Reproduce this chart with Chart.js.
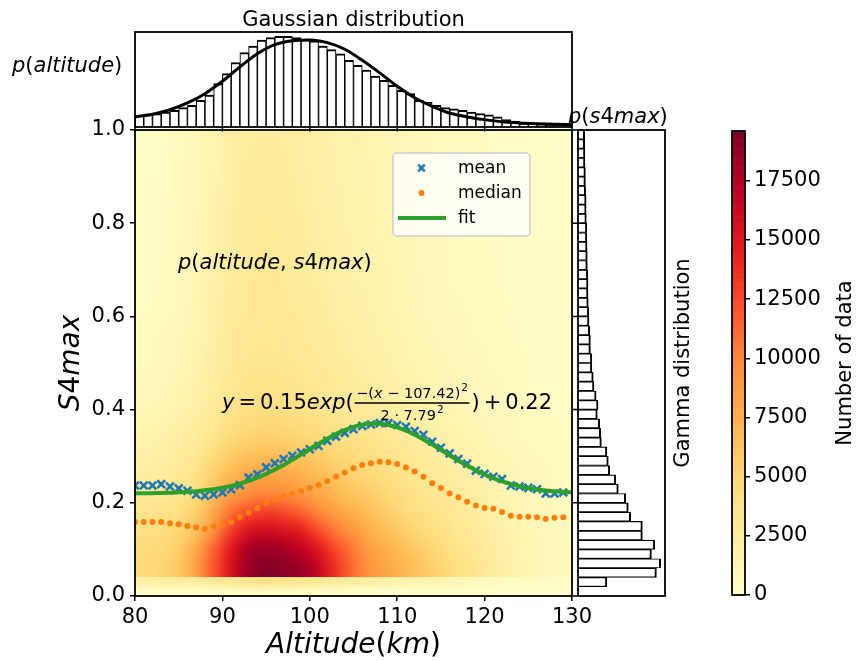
<!DOCTYPE html>
<html>
<head>
<meta charset="utf-8">
<script src="https://cdn.jsdelivr.net/npm/chart.js@4.4.1/dist/chart.umd.min.js"></script>
<style>
  html, body { margin: 0; padding: 0; background: #fff; }
  #wrap { position: relative; width: 860px; height: 661px; }
  #wrap canvas { position: absolute; left: 0; top: 0; }
</style>
</head>
<body>
<div id="wrap">
  <canvas id="mainPlot" width="860" height="661"></canvas>
  <canvas id="altHist" width="860" height="661"></canvas>
  <canvas id="s4Hist" width="860" height="661"></canvas>
  <canvas id="colorBar" width="860" height="661"></canvas>
</div>
<script>
// ---------------- data ----------------
// altitude bins (km) used for the mean / median profiles
const altitudeKm = [80,81,82,83,84,85,86,87,88,89,90,91,92,93,94,95,96,97,98,99,
  100,101,102,103,104,105,106,107,108,109,110,111,112,113,114,115,116,117,118,119,
  120,121,122,123,124,125,126,127,128,129];

const meanS4 = [0.237,0.237,0.237,0.240,0.235,0.231,0.226,0.218,0.215,0.218,
  0.222,0.229,0.238,0.254,0.261,0.276,0.285,0.294,0.301,0.308,
  0.315,0.322,0.333,0.342,0.350,0.358,0.365,0.368,0.371,0.371,
  0.367,0.363,0.354,0.346,0.331,0.318,0.306,0.294,0.284,0.269,
  0.262,0.256,0.251,0.237,0.235,0.232,0.229,0.220,0.220,0.222];

const medianS4 = [0.159,0.159,0.159,0.159,0.156,0.154,0.150,0.147,0.144,0.149,
  0.154,0.159,0.170,0.179,0.189,0.200,0.207,0.213,0.219,0.225,
  0.232,0.238,0.247,0.256,0.265,0.274,0.281,0.285,0.288,0.287,
  0.283,0.276,0.267,0.256,0.242,0.232,0.220,0.212,0.202,0.194,
  0.189,0.187,0.180,0.172,0.170,0.170,0.169,0.165,0.168,0.169];

// Gaussian fit of the mean profile: y = A exp(-(x-mu)^2 / (2 sigma^2)) + c
const fitAmp = 0.15, fitMu = 107.42, fitSigma = 7.79, fitOffset = 0.22;

// altitude histogram (density per 1 km bin, 80..130 km)
const altHistCenters = [80.5,81.5,82.5,83.5,84.5,85.5,86.5,87.5,88.5,89.5,
  90.5,91.5,92.5,93.5,94.5,95.5,96.5,97.5,98.5,99.5,
  100.5,101.5,102.5,103.5,104.5,105.5,106.5,107.5,108.5,109.5,
  110.5,111.5,112.5,113.5,114.5,115.5,116.5,117.5,118.5,119.5,
  120.5,121.5,122.5,123.5,124.5,125.5,126.5,127.5,128.5,129.5];
const altHistDensity = [0.0060,0.0066,0.0069,0.0077,0.0086,0.0100,0.0112,0.0138,0.0164,0.0224,
  0.0275,0.0332,0.0384,0.0417,0.0448,0.0461,0.0468,0.0468,0.0461,0.0451,
  0.0444,0.0418,0.0399,0.0378,0.0344,0.0318,0.0293,0.0262,0.0241,0.0215,
  0.0189,0.0172,0.0138,0.0129,0.0112,0.0100,0.0094,0.0086,0.0077,0.0069,
  0.0063,0.0052,0.0038,0.0031,0.0021,0.0017,0.0014,0.0010,0.0009,0.0007];

// fitted Gaussian pdf over the altitude histogram
const gaussAlt = [80,82,84,86,88,90,92,94,96,98,100,102,104,106,108,110,112,114,116,118,120,122,124,126,128,130];
const gaussDensity = [0.0052,0.0066,0.0089,0.0124,0.0172,0.0236,0.0310,0.0378,0.0425,0.0445,
  0.0449,0.0435,0.0401,0.0344,0.0279,0.0210,0.0151,0.0107,0.0072,0.0052,
  0.0038,0.0027,0.0021,0.0017,0.0014,0.0012];

// S4max histogram (density per 0.02 bin, 0..1)
const s4HistCenters = [0.01,0.03,0.05,0.07,0.09,0.11,0.13,0.15,0.17,0.19,
  0.21,0.23,0.25,0.27,0.29,0.31,0.33,0.35,0.37,0.39,
  0.41,0.43,0.45,0.47,0.49,0.51,0.53,0.55,0.57,0.59,
  0.61,0.63,0.65,0.67,0.69,0.71,0.73,0.75,0.77,0.79,
  0.81,0.83,0.85,0.87,0.89,0.91,0.93,0.95,0.97,0.99];
const s4HistDensity = [0.02,1.21,3.29,3.47,3.08,3.22,2.70,2.70,2.21,2.11,
  2.00,1.69,1.58,1.33,1.27,1.21,0.98,0.95,0.91,0.81,
  0.84,0.76,0.67,0.64,0.58,0.58,0.52,0.52,0.49,0.46,
  0.45,0.43,0.42,0.42,0.41,0.39,0.39,0.38,0.37,0.37,
  0.35,0.34,0.34,0.32,0.31,0.31,0.29,0.29,0.28,0.28];

// 2-D histogram counts, 2 km columns from 80 km.
// Near the ground the rows are 0.02 tall, above 0.04 they are 0.04 tall.
const heatAltRange = [80, 130];
const heatLowEdges = [0, 0.04];     // band holding the two thin rows
const heatHighEdges = [0.04, 1.0];  // band holding the 0.04 rows
const heatMax = 19600;
const heatLowRows = [
  [150,200,250,300,350,400,450,450,450,400,400,350,300,300,250,250,200,200,150,150,150,100,100,100,100],
  [2200,2300,2400,2600,2900,3300,3600,3700,3600,3400,3100,2800,2500,2200,2000,1800,1600,1400,1200,1000,850,700,600,500,400]
];
const heatHighRows = [
  [4500,5000,6000,8500,12000,15500,18500,19500,19000,18500,16500,13500,11000,9000,8000,7000,6000,5000,4000,3500,2500,2000,1500,1200,1000],
  [4500,4800,5500,8000,11500,15000,18000,18500,18000,17000,15000,12500,10500,8500,7500,6500,5500,4500,3800,3200,2400,1900,1500,1200,1000],
  [4000,4300,5000,6500,9500,13000,15500,16000,15500,14500,12500,10500,9000,7500,6500,5500,4500,4000,3200,2800,2200,1800,1400,1100,900],
  [3500,3800,4200,5500,8000,11000,12500,13000,12500,11500,10000,8500,7500,6500,5500,4500,4000,3500,3000,2500,2000,1600,1300,1000,800],
  [2800,3000,3500,4500,6500,8500,9500,10000,9800,9000,8000,7000,6200,5500,4800,4000,3500,3000,2600,2200,1800,1500,1200,1000,800],
  [2400,2600,3000,3800,5500,7000,8000,8200,8000,7500,6800,6000,5300,4800,4200,3600,3100,2700,2300,2000,1600,1400,1100,900,700],
  [2000,2200,2600,3300,4500,5800,6500,6800,6600,6200,5700,5100,4600,4200,3700,3200,2700,2300,2000,1700,1400,1200,1000,800,650],
  [1700,1900,2200,2800,3700,4600,5200,5400,5300,5000,4700,4300,3900,3600,3200,2800,2400,2000,1700,1500,1200,1000,850,700,600],
  [1400,1600,1900,2400,3100,3900,4400,4600,4500,4200,3900,3600,3300,3000,2700,2400,2100,1800,1500,1300,1100,900,750,650,550],
  [1100,1300,1600,2000,2700,3400,3800,4000,3900,3700,3400,3100,2800,2600,2300,2000,1800,1500,1300,1100,950,800,650,550,500],
  [950,1150,1450,1850,2500,3200,3600,3700,3600,3400,3200,2900,2600,2400,2100,1900,1600,1400,1200,1000,900,750,600,500,450],
  [850,1000,1300,1700,2400,3000,3400,3500,3400,3200,3000,2700,2400,2200,2000,1700,1500,1300,1100,950,850,700,600,500,450],
  [750,900,1200,1600,2300,2900,3200,3300,3200,3000,2800,2500,2300,2100,1900,1600,1400,1200,1000,900,800,650,550,480,420],
  [650,800,1100,1500,2200,2800,3100,3200,3100,2900,2700,2400,2200,2000,1800,1500,1300,1100,950,850,750,620,520,450,400],
  [580,720,1000,1450,2100,2700,3000,3100,3000,2800,2600,2300,2100,1900,1700,1450,1250,1050,900,800,700,600,500,430,380],
  [520,660,950,1400,2000,2600,2900,3000,2900,2700,2500,2250,2000,1850,1650,1400,1200,1000,880,780,680,580,480,420,370],
  [470,610,900,1350,1950,2550,2850,2950,2850,2650,2450,2200,1950,1800,1600,1350,1150,980,860,760,660,560,470,410,360],
  [430,570,860,1300,1900,2500,2800,2900,2800,2600,2400,2150,1900,1750,1550,1300,1120,960,840,740,640,550,460,400,350],
  [400,540,830,1250,1850,2450,2750,2850,2750,2550,2350,2100,1850,1700,1500,1280,1100,940,820,720,630,540,450,390,340],
  [380,510,800,1200,1800,2400,2700,2800,2700,2500,2300,2050,1800,1650,1450,1250,1080,920,800,700,620,530,440,380,330],
  [360,490,780,1180,1750,2350,2650,2750,2650,2450,2250,2000,1780,1620,1420,1230,1060,900,790,690,610,520,430,370,320],
  [340,470,760,1150,1700,2300,2600,2700,2600,2400,2200,1950,1750,1600,1400,1200,1040,880,780,680,600,510,420,360,310],
  [320,450,740,1120,1680,2250,2550,2650,2550,2350,2150,1900,1720,1580,1380,1180,1020,870,770,670,590,500,410,350,300],
  [300,430,720,1100,1650,2200,2500,2600,2500,2300,2100,1880,1700,1560,1360,1160,1000,860,760,660,580,490,400,340,300]
];

// tick values
const altTicks = [80, 90, 100, 110, 120, 130];
const s4Ticks = [0, 0.2, 0.4, 0.6, 0.8, 1.0];
const countTicks = [0, 2500, 5000, 7500, 10000, 12500, 15000, 17500];

// ---------------- helpers ----------------
const FAMILY = "'DejaVu Sans', sans-serif";
Chart.defaults.font.family = FAMILY;
Chart.defaults.color = '#000';

const ylOrRdStops = [[255,255,204],[255,237,160],[254,217,118],[254,178,76],[253,141,60],
  [252,78,42],[227,26,28],[189,0,38],[128,0,38]];
function ylOrRd(t) {
  t = Math.min(1, Math.max(0, t));
  const p = t * (ylOrRdStops.length - 1);
  const i = Math.min(Math.floor(p), ylOrRdStops.length - 2);
  const f = p - i, a = ylOrRdStops[i], b = ylOrRdStops[i + 1];
  return [0, 1, 2].map(k => Math.round(a[k] + (b[k] - a[k]) * f));
}

function fontStr(style, size) {
  return (style === 'i' ? 'italic ' : '') + size + 'px ' + FAMILY;
}
// runs: [[text, 'i'|'r'], ...]
function runsWidth(ctx, runs, size) {
  let w = 0;
  for (const [t, st] of runs) { ctx.font = fontStr(st, size); w += ctx.measureText(t).width; }
  return w;
}
function drawRuns(ctx, runs, x, y, size, align) {
  const w = runsWidth(ctx, runs, size);
  let cx = align === 'center' ? x - w / 2 : x;
  ctx.textBaseline = 'alphabetic';
  ctx.textAlign = 'left';
  for (const [t, st] of runs) {
    ctx.font = fontStr(st, size);
    ctx.fillText(t, cx, y);
    cx += ctx.measureText(t).width;
  }
  return cx;
}

function frame(id, lw) {
  return {
    id,
    afterDatasetsDraw(chart) {
      const { ctx, chartArea: a } = chart;
      ctx.save();
      ctx.strokeStyle = '#000';
      ctx.lineWidth = lw;
      ctx.strokeRect(a.left, a.top, a.right - a.left, a.bottom - a.top);
      ctx.restore();
    }
  };
}

// turn a block of count rows (bottom row first) into a small bitmap
function rowsToBitmap(rows) {
  const ny = rows.length, nx = rows[0].length;
  const off = document.createElement('canvas');
  off.width = nx; off.height = ny;
  const octx = off.getContext('2d');
  const img = octx.createImageData(nx, ny);
  for (let r = 0; r < ny; r++) {
    for (let c = 0; c < nx; c++) {
      const [R, G, B] = ylOrRd(rows[r][c] / heatMax);
      const idx = ((ny - 1 - r) * nx + c) * 4;
      img.data[idx] = R; img.data[idx + 1] = G; img.data[idx + 2] = B; img.data[idx + 3] = 255;
    }
  }
  octx.putImageData(img, 0, 0);
  return off;
}

// ---------------- main panel ----------------
const heatmapLayer = {
  id: 'heatmapLayer',
  beforeDatasetsDraw(chart) {
    const { ctx, chartArea: a, scales: { x, y } } = chart;
    const x0 = x.getPixelForValue(heatAltRange[0]), x1 = x.getPixelForValue(heatAltRange[1]);
    ctx.save();
    ctx.beginPath();
    ctx.rect(a.left, a.top, a.right - a.left, a.bottom - a.top);
    ctx.clip();
    ctx.imageSmoothingEnabled = true;
    ctx.imageSmoothingQuality = 'high';
    [[heatLowRows, heatLowEdges], [heatHighRows, heatHighEdges]].forEach(([rows, edges]) => {
      const yb = y.getPixelForValue(edges[0]), yt = y.getPixelForValue(edges[1]);
      ctx.drawImage(rowsToBitmap(rows), x0, yt, x1 - x0, yb - yt);
    });
    ctx.restore();
  }
};

const mainLabels = {
  id: 'mainLabels',
  afterDraw(chart) {
    const { ctx } = chart;
    ctx.save();
    ctx.fillStyle = '#000';
    // axis titles
    drawRuns(ctx, [['Altitude', 'i'], ['(', 'r'], ['km', 'i'], [')', 'r']], 353.5, 653, 28, 'center');
    ctx.save();
    ctx.translate(79, 363);
    ctx.rotate(-Math.PI / 2);
    drawRuns(ctx, [['S', 'i'], ['4', 'r'], ['max', 'i']], 0, 0, 28, 'center');
    ctx.restore();
    // joint-pdf label
    drawRuns(ctx, [['p', 'i'], ['(', 'r'], ['altitude', 'i'], [', ', 'r'], ['s', 'i'], ['4', 'r'], ['max', 'i'], [')', 'r']], 178, 269, 21, 'left');

    // fit equation
    const B = 409, MS = 21;
    let cx = 222;
    cx = drawRuns(ctx, [['y', 'i']], cx, B, MS, 'left') + 4;
    cx = drawRuns(ctx, [['=', 'r']], cx, B, MS, 'left') + 4;
    cx = drawRuns(ctx, [['0.15', 'r'], ['exp', 'i'], ['(', 'r']], cx, B, MS, 'left');
    const num = [['\u2212(', 'r'], ['x', 'i'], [' \u2212 ', 'r'], ['107.42)', 'r']];
    const den = [['2 \u00b7 7.79', 'r']];
    const fs = 14.5, ss = 10.5;
    const wn = runsWidth(ctx, num, fs) + runsWidth(ctx, [['2', 'r']], ss) + 1;
    const wd = runsWidth(ctx, den, fs) + runsWidth(ctx, [['2', 'r']], ss) + 1;
    const W = Math.max(wn, wd) + 3;
    const fx = cx + 1;
    const nx = drawRuns(ctx, num, fx + (W - wn) / 2, B - 11, fs, 'left');
    drawRuns(ctx, [['2', 'r']], nx + 1, B - 18, ss, 'left');
    const dx = drawRuns(ctx, den, fx + (W - wd) / 2, B + 11, fs, 'left');
    drawRuns(ctx, [['2', 'r']], dx + 1, B + 4, ss, 'left');
    ctx.strokeStyle = '#000';
    ctx.lineWidth = 1.3;
    ctx.beginPath();
    ctx.moveTo(fx, B - 6);
    ctx.lineTo(fx + W, B - 6);
    ctx.stroke();
    cx = fx + W + 2;
    cx = drawRuns(ctx, [[')', 'r']], cx, B, MS, 'left') + 4;
    cx = drawRuns(ctx, [['+', 'r']], cx, B, MS, 'left') + 4;
    drawRuns(ctx, [['0.22', 'r']], cx, B, MS, 'left');

    // legend
    const lx = 393, ly = 153, lw = 137, lh = 83, rr = 4;
    ctx.beginPath();
    ctx.moveTo(lx + rr, ly);
    ctx.arcTo(lx + lw, ly, lx + lw, ly + lh, rr);
    ctx.arcTo(lx + lw, ly + lh, lx, ly + lh, rr);
    ctx.arcTo(lx, ly + lh, lx, ly, rr);
    ctx.arcTo(lx, ly, lx + lw, ly, rr);
    ctx.closePath();
    ctx.fillStyle = 'rgba(255,255,255,0.8)';
    ctx.fill();
    ctx.strokeStyle = '#cccccc';
    ctx.lineWidth = 1.5;
    ctx.stroke();

    const ds = chart.data.datasets;
    const mx = 421.5;
    // mean marker (x)
    ctx.strokeStyle = ds[0].borderColor;
    ctx.lineWidth = 2.6;
    ctx.beginPath();
    ctx.moveTo(mx - 3.3, 168 - 3.3); ctx.lineTo(mx + 3.3, 168 + 3.3);
    ctx.moveTo(mx - 3.3, 168 + 3.3); ctx.lineTo(mx + 3.3, 168 - 3.3);
    ctx.stroke();
    // median marker (dot)
    ctx.fillStyle = ds[1].backgroundColor;
    ctx.beginPath();
    ctx.arc(mx, 193, 2.9, 0, Math.PI * 2);
    ctx.fill();
    // fit line
    ctx.strokeStyle = ds[2].borderColor;
    ctx.lineWidth = 4;
    ctx.beginPath();
    ctx.moveTo(398, 218); ctx.lineTo(446, 218);
    ctx.stroke();

    ctx.fillStyle = '#000';
    ctx.font = '17px ' + FAMILY;
    ctx.textBaseline = 'middle';
    ctx.textAlign = 'left';
    ds.forEach((d, i) => ctx.fillText(d.label, 458, 169 + 25 * i));
    ctx.restore();
  }
};

const fitPoints = [];
for (let a = heatAltRange[0]; a <= heatAltRange[1] + 1e-9; a += 0.25) {
  fitPoints.push({ x: a, y: fitAmp * Math.exp(-((a - fitMu) ** 2) / (2 * fitSigma ** 2)) + fitOffset });
}

new Chart(document.getElementById('mainPlot'), {
  type: 'line',
  data: {
    datasets: [
      {
        label: 'mean',
        data: altitudeKm.map((a, i) => ({ x: a, y: meanS4[i] })),
        showLine: false,
        pointStyle: 'crossRot',
        pointRadius: 5.5,
        pointBorderWidth: 2.6,
        borderColor: '#1f77b4',
        backgroundColor: '#1f77b4',
        clip: 0,
        order: 2
      },
      {
        label: 'median',
        data: altitudeKm.map((a, i) => ({ x: a, y: medianS4[i] })),
        showLine: false,
        pointStyle: 'circle',
        pointRadius: 3,
        pointBorderWidth: 0,
        borderColor: '#ff7f0e',
        backgroundColor: '#ff7f0e',
        clip: 0,
        order: 1
      },
      {
        label: 'fit',
        data: fitPoints,
        showLine: true,
        pointRadius: 0,
        borderColor: '#2ca02c',
        borderWidth: 4,
        tension: 0,
        clip: 0,
        order: 0
      }
    ]
  },
  options: {
    responsive: false,
    animation: false,
    devicePixelRatio: 1,
    layout: { padding: { left: 0, top: 130, right: 288, bottom: 0 } },
    plugins: { legend: { display: false }, tooltip: { enabled: false } },
    scales: {
      x: {
        type: 'linear', min: heatAltRange[0], max: heatAltRange[1],
        afterBuildTicks(s) { s.ticks = altTicks.map(v => ({ value: v })); },
        ticks: { font: { size: 21 }, color: '#000', padding: 4, maxRotation: 0, autoSkip: false },
        grid: { display: true, drawOnChartArea: false, drawTicks: true, tickLength: 5, color: '#000', lineWidth: 1.5 },
        border: { display: false },
        afterFit(s) { s.height = 65; }
      },
      y: {
        type: 'linear', min: 0, max: 1,
        afterBuildTicks(s) { s.ticks = s4Ticks.map(v => ({ value: v })); },
        ticks: { font: { size: 21 }, color: '#000', padding: 5, callback: v => Number(v).toFixed(1) },
        grid: { display: true, drawOnChartArea: false, drawTicks: true, tickLength: 5, color: '#000', lineWidth: 1.5 },
        border: { display: false },
        afterFit(s) { s.width = 135; }
      }
    }
  },
  plugins: [heatmapLayer, frame('mainFrame', 1.8), mainLabels]
});

// ---------------- altitude histogram (top) ----------------
const altHistDecor = {
  id: 'altHistDecor',
  afterDraw(chart) {
    const { ctx, chartArea: a, scales: { x } } = chart;
    ctx.save();
    ctx.strokeStyle = '#000';
    ctx.lineWidth = 1.5;
    ctx.beginPath();
    altTicks.forEach(v => { const px = x.getPixelForValue(v); ctx.moveTo(px, a.bottom); ctx.lineTo(px, a.bottom + 4.5); });
    ctx.stroke();
    ctx.fillStyle = '#000';
    ctx.font = '21px ' + FAMILY;
    ctx.textAlign = 'center';
    ctx.textBaseline = 'alphabetic';
    ctx.fillText('Gaussian distribution', (a.left + a.right) / 2, 26);
    drawRuns(ctx, [['p', 'i'], ['(', 'r'], ['altitude', 'i'], [')', 'r']], 12, 72, 21, 'left');
    ctx.restore();
  }
};

new Chart(document.getElementById('altHist'), {
  type: 'bar',
  data: {
    datasets: [
      {
        type: 'line',
        data: gaussAlt.map((a, i) => ({ x: a, y: gaussDensity[i] })),
        borderColor: '#000',
        borderWidth: 3,
        pointRadius: 0,
        cubicInterpolationMode: 'monotone',
        clip: 0,
        order: 0
      },
      {
        type: 'bar',
        data: altHistCenters.map((a, i) => ({ x: a, y: altHistDensity[i] })),
        backgroundColor: '#ffffff',
        borderColor: '#000',
        borderWidth: { top: 2, left: 1.1, right: 1.1, bottom: 0 },
        borderSkipped: false,
        barPercentage: 1,
        categoryPercentage: 1,
        order: 1
      }
    ]
  },
  options: {
    responsive: false,
    animation: false,
    devicePixelRatio: 1,
    layout: { padding: { left: 135, right: 288, top: 32, bottom: 534 } },
    plugins: { legend: { display: false }, tooltip: { enabled: false } },
    scales: {
      x: { type: 'linear', display: false, min: 80, max: 130, offset: false },
      y: { type: 'linear', display: false, min: 0, max: 0.049 }
    }
  },
  plugins: [frame('altFrame', 1.8), altHistDecor]
});

// ---------------- S4max histogram (right) ----------------
const s4HistDecor = {
  id: 's4HistDecor',
  afterDraw(chart) {
    const { ctx, chartArea: a, scales: { y } } = chart;
    ctx.save();
    ctx.strokeStyle = '#000';
    ctx.lineWidth = 1.5;
    ctx.beginPath();
    s4Ticks.forEach(v => { const py = y.getPixelForValue(v); ctx.moveTo(a.left, py); ctx.lineTo(a.left - 5, py); });
    ctx.stroke();
    ctx.fillStyle = '#000';
    drawRuns(ctx, [['p', 'i'], ['(', 'r'], ['s', 'i'], ['4', 'r'], ['max', 'i'], [')', 'r']], 568, 123, 21, 'left');
    ctx.translate(689, (a.top + a.bottom) / 2);
    ctx.rotate(-Math.PI / 2);
    ctx.font = '21px ' + FAMILY;
    ctx.textAlign = 'center';
    ctx.textBaseline = 'alphabetic';
    ctx.fillText('Gamma distribution', 0, 0);
    ctx.restore();
  }
};

new Chart(document.getElementById('s4Hist'), {
  type: 'bar',
  data: {
    datasets: [{
      data: s4HistCenters.map((s, i) => ({ x: s4HistDensity[i], y: s })),
      backgroundColor: '#ffffff',
      borderColor: '#000',
      borderWidth: { right: 2, top: 1.2, bottom: 1.2, left: 0 },
      borderSkipped: false,
      barPercentage: 1,
      categoryPercentage: 1
    }]
  },
  options: {
    indexAxis: 'y',
    responsive: false,
    animation: false,
    devicePixelRatio: 1,
    layout: { padding: { left: 578, right: 195, top: 130, bottom: 65 } },
    plugins: { legend: { display: false }, tooltip: { enabled: false } },
    scales: {
      y: { type: 'linear', display: false, min: 0, max: 1, offset: false },
      x: { type: 'linear', display: false, min: 0, max: 3.65 }
    }
  },
  plugins: [frame('s4Frame', 1.8), s4HistDecor]
});

// ---------------- colour bar ----------------
const colorRamp = {
  id: 'colorRamp',
  beforeDatasetsDraw(chart) {
    const { ctx, chartArea: a, scales: { y } } = chart;
    const steps = 256;
    ctx.save();
    for (let i = 0; i < steps; i++) {
      const v0 = heatMax * i / steps, v1 = heatMax * (i + 1) / steps;
      const p0 = y.getPixelForValue(v0), p1 = y.getPixelForValue(v1);
      const [R, G, B] = ylOrRd((i + 0.5) / steps);
      ctx.fillStyle = `rgb(${R},${G},${B})`;
      ctx.fillRect(a.left, p1, a.right - a.left, p0 - p1 + 0.6);
    }
    ctx.restore();
  },
  afterDraw(chart) {
    const { ctx, chartArea: a } = chart;
    ctx.save();
    ctx.translate(851, (a.top + a.bottom) / 2);
    ctx.rotate(-Math.PI / 2);
    ctx.fillStyle = '#000';
    ctx.font = '21px ' + FAMILY;
    ctx.textAlign = 'center';
    ctx.textBaseline = 'alphabetic';
    ctx.fillText('Number of data', 0, 0);
    ctx.restore();
  }
};

new Chart(document.getElementById('colorBar'), {
  type: 'line',
  data: { datasets: [] },
  options: {
    responsive: false,
    animation: false,
    devicePixelRatio: 1,
    layout: { padding: { left: 732, right: 0, top: 131, bottom: 66 } },
    plugins: { legend: { display: false }, tooltip: { enabled: false } },
    scales: {
      x: { display: false },
      y: {
        type: 'linear', position: 'right', min: 0, max: heatMax,
        afterBuildTicks(s) { s.ticks = countTicks.map(v => ({ value: v })); },
        ticks: { font: { size: 21 }, color: '#000', padding: 4, callback: v => String(v) },
        grid: { display: true, drawOnChartArea: false, drawTicks: true, tickLength: 5, color: '#000', lineWidth: 1.5 },
        border: { display: false },
        afterFit(s) { s.width = 115; }
      }
    }
  },
  plugins: [colorRamp, frame('cbFrame', 1.8)]
});
</script>
</body>
</html>
